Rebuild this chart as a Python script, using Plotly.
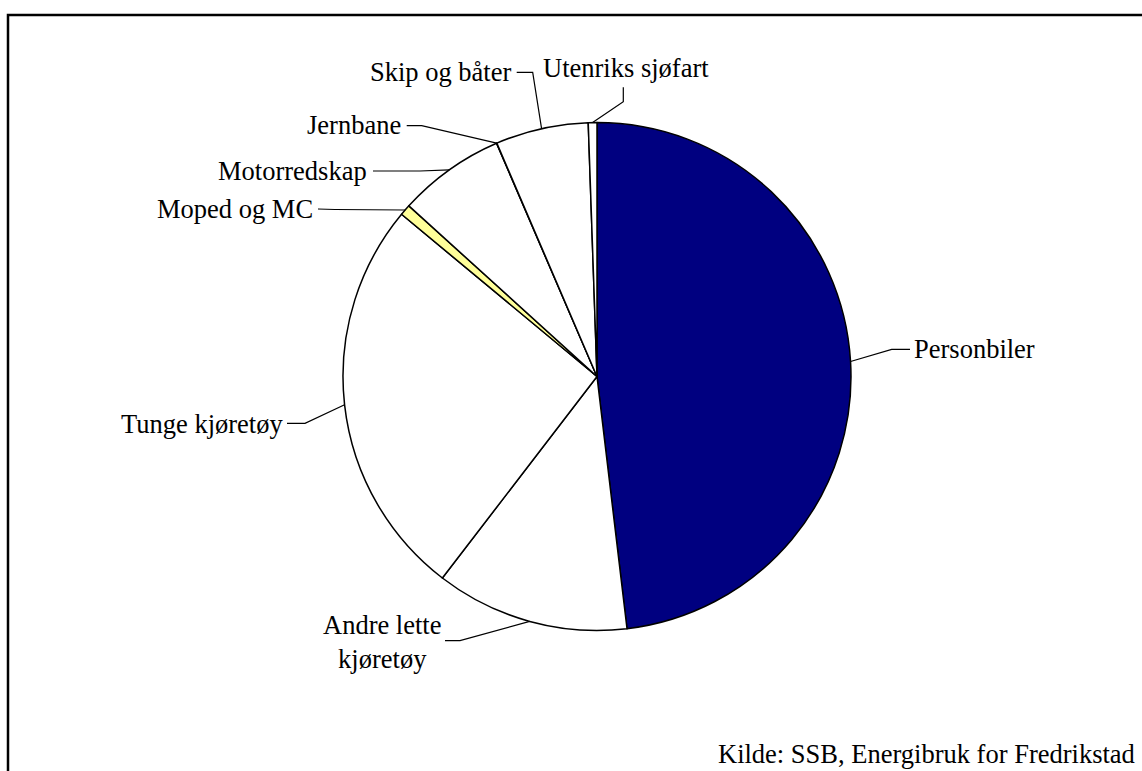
import math
import plotly.graph_objects as go

# Energibruk i transportsektoren, Fredrikstad (andel i prosent)
categories = ["Personbiler", "Andre lette kjøretøy", "Tunge kjøretøy", "Moped og MC",
              "Motorredskap", "Jernbane", "Skip og båter", "Utenriks sjøfart"]
shares = [48.1, 12.3, 25.6, 0.7, 6.8, 0.02, 5.9, 0.55]
colors = ["#000080", "#FFFFFF", "#FFFFFF", "#FFFF99",
          "#FFFFFF", "#FFFFFF", "#FFFFFF", "#FFFFFF"]
label_text = ["Personbiler", "Andre lette<br>kjøretøy", "Tunge kjøretøy", "Moped og MC",
              "Motorredskap", "Jernbane", "Skip og båter", "Utenriks sjøfart"]
source_note = "Kilde: SSB, Energibruk for Fredrikstad"

W, H = 1142, 771
CX, CY, R = 597.0, 376.5, 254.0
FONT = "Liberation Serif, Times New Roman, serif"
FS = 26.5


def px(x):
    return x / W


def py(y):
    return 1 - y / H


# label placement: (text anchor x, text centre y, xanchor, leader elbow, leader end)
placement = {
    "Personbiler": (912, 349, "left", (891.7, 349.3), (910, 349.3)),
    "Andre lette kjøretøy": (382, 642, "center", (460, 640.7), (445, 640.7)),
    "Tunge kjøretøy": (285, 423.5, "right", (305, 423.3), (287, 423.3)),
    "Moped og MC": (315, 209, "right", (335, 209.5), (318, 209)),
    "Motorredskap": (369, 170.5, "right", (420, 171), (373, 171)),
    "Jernbane": (403, 125.5, "right", (421.7, 125.7), (406.7, 125.7)),
    "Skip og båter": (513, 71.5, "right", (532.7, 72.3), (516.7, 72.3)),
    "Utenriks sjøfart": (541, 67.5, "left", (623.3, 101.7), (623.3, 87.3)),
}

fig = go.Figure()
fig.add_trace(go.Pie(
    labels=categories,
    values=shares,
    sort=False,
    direction="clockwise",
    rotation=0,
    textinfo="none",
    hoverinfo="label+percent",
    marker=dict(colors=colors, line=dict(color="#000000", width=1.5)),
    domain=dict(x=[px(CX - R), px(CX + R)], y=[py(CY + R), py(CY - R)]),
    showlegend=False,
))

shapes = []
annotations = []
total = sum(shares)
start = 0.0
for cat, val, txt in zip(categories, shares, label_text):
    mid = start + val / total * 360.0 / 2
    start += val / total * 360.0
    a = math.radians(mid)
    ax, ay = CX + R * math.sin(a), CY - R * math.cos(a)
    tx, ty, anchor, elbow, end = placement[cat]
    path = "M {} {} L {} {} L {} {}".format(px(ax), py(ay), px(elbow[0]), py(elbow[1]),
                                          px(end[0]), py(end[1]))
    shapes.append(dict(type="path", xref="paper", yref="paper", path=path,
                       line=dict(color="#000000", width=1.2)))
    annotations.append(dict(x=px(tx), y=py(ty), xref="paper", yref="paper",
                            text=txt, showarrow=False, xanchor=anchor, yanchor="middle",
                            align="center", font=dict(family=FONT, size=FS, color="#000000")))

annotations.append(dict(x=px(1137), y=py(754), xref="paper", yref="paper", text=source_note,
                        showarrow=False, xanchor="right", yanchor="middle",
                        font=dict(family=FONT, size=FS, color="#000000")))

# chart frame
shapes.append(dict(type="rect", xref="paper", yref="paper",
                   x0=px(8), y0=py(790), x1=px(1160), y1=py(15),
                   line=dict(color="#000000", width=2.5), fillcolor="rgba(0,0,0,0)"))

fig.update_layout(
    width=W, height=H,
    margin=dict(l=0, r=0, t=0, b=0),
    paper_bgcolor="#FFFFFF",
    plot_bgcolor="#FFFFFF",
    shapes=shapes,
    annotations=annotations,
)

fig.write_html("out.html")
